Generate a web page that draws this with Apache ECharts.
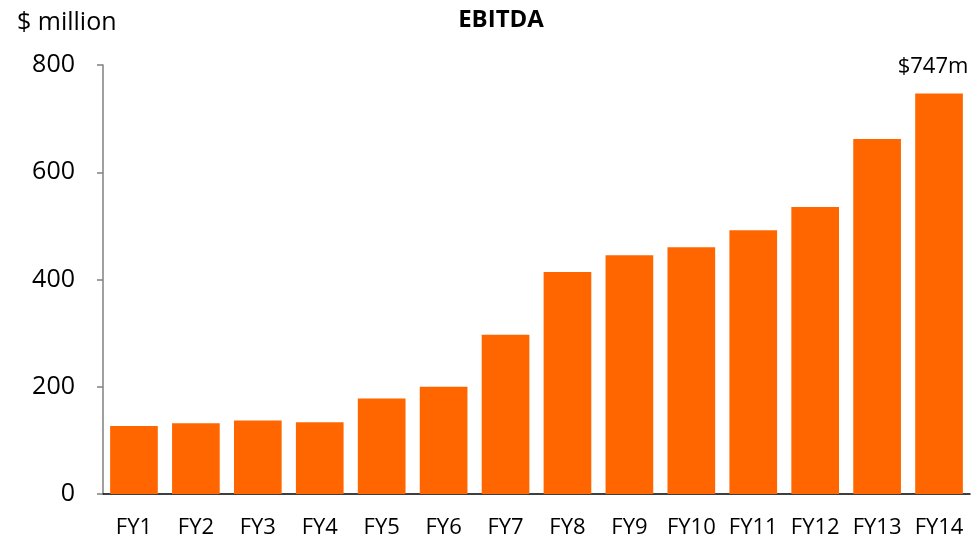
<!DOCTYPE html>
<html>
<head>
<meta charset="utf-8">
<script src="https://cdn.jsdelivr.net/npm/echarts@6/dist/echarts.min.js"></script>
<style>
  html, body { margin: 0; padding: 0; background: #fff; }
  #chart { width: 975px; height: 541px; }
</style>
</head>
<body>
<div id="chart"></div>
<script>
// EBITDA by financial year, $ million
const categories = ['FY1', 'FY2', 'FY3', 'FY4', 'FY5', 'FY6', 'FY7', 'FY8', 'FY9', 'FY10', 'FY11', 'FY12', 'FY13', 'FY14'];
const ebitda = [127, 132, 137, 134, 178, 200, 297, 414, 445, 460, 492, 535, 662, 747];
const yTicks = [0, 200, 400, 600, 800];

const FONT = '"Open Sans", "Liberation Sans", sans-serif';
const last = ebitda.length - 1;

const chart = echarts.init(document.getElementById('chart'), null, { renderer: 'canvas' });
chart.setOption({
  animation: false,
  backgroundColor: '#ffffff',
  title: [
    {
      text: 'EBITDA',
      left: 496,
      top: 3,
      textAlign: 'center',
      textStyle: { fontFamily: FONT, fontSize: 24, fontWeight: 'bold', color: '#000' }
    },
    {
      text: '$ million',
      left: 12,
      top: 5,
      textStyle: { fontFamily: FONT, fontSize: 25, fontWeight: 'normal', color: '#000' }
    }
  ],
  grid: { left: 103, right: 5, top: 65, bottom: 47, containLabel: false },
  xAxis: {
    type: 'category',
    data: categories,
    axisLine: { lineStyle: { color: '#000', width: 1.5 } },
    axisTick: { show: false },
    axisLabel: { interval: 0, fontFamily: FONT, fontSize: 22, color: '#000', margin: 23 }
  },
  yAxis: {
    type: 'value',
    min: yTicks[0],
    max: yTicks[yTicks.length - 1],
    interval: yTicks[1] - yTicks[0],
    axisLine: { show: true, lineStyle: { color: '#808080', width: 1.5 } },
    axisTick: { show: true, length: 6, lineStyle: { color: '#808080', width: 1.5 } },
    splitLine: { show: false },
    axisLabel: { fontFamily: FONT, fontSize: 25, color: '#000', margin: 28, padding: [0, 0, 4, 0] }
  },
  series: [{
    type: 'bar',
    data: ebitda.map((v, i) => i === last
      ? { value: v, label: { show: true, position: 'top', distance: 16, offset: [-6, 0], formatter: '${c}m', fontFamily: FONT, fontSize: 22, color: '#000' } }
      : v),
    barCategoryGap: '23%',
    itemStyle: { color: '#FF6600' }
  }]
});
</script>
</body>
</html>
